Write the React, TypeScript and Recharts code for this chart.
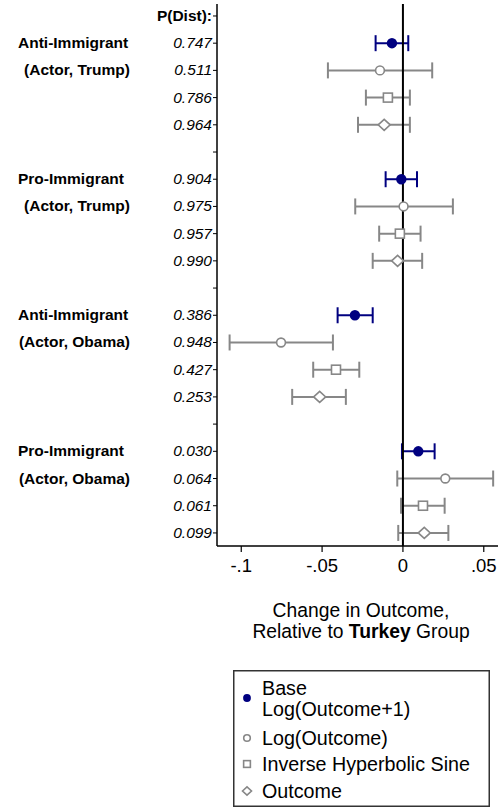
import React from 'react';
import { ScatterChart, Scatter, XAxis, YAxis, ErrorBar, ReferenceLine, Legend } from 'recharts';

const FONT = '"Liberation Sans", Arial, Helvetica, sans-serif';
const NAVY = '#000080';
const GRAY = '#878787';

const groups = ['Anti-Immigrant', 'Pro-Immigrant', 'Anti-Immigrant', 'Pro-Immigrant'];
const actors = ['(Actor, Trump)', '(Actor, Trump)', '(Actor, Obama)', '(Actor, Obama)'];
const models = ['Base', 'Log(Outcome)', 'Inverse Hyperbolic Sine', 'Outcome'];

// p-values per group, in model order
const pDist = [
  ['0.747', '0.511', '0.786', '0.964'],
  ['0.904', '0.975', '0.957', '0.990'],
  ['0.386', '0.948', '0.427', '0.253'],
  ['0.030', '0.064', '0.061', '0.099'],
];

// estimates and 95% bounds, one entry per group
const baseEst = [-0.0068, -0.001, -0.0297, 0.0095];
const baseLo = [-0.0169, -0.0107, -0.0404, -0.0006];
const baseHi = [0.0033, 0.0087, -0.0187, 0.0196];

const logEst = [-0.0142, 0.0004, -0.0754, 0.0262];
const logLo = [-0.0464, -0.0295, -0.1072, -0.0035];
const logHi = [0.0181, 0.0309, -0.0433, 0.0558];

const ihsEst = [-0.0093, -0.0019, -0.0414, 0.0124];
const ihsLo = [-0.0229, -0.0147, -0.0555, -0.0012];
const ihsHi = [0.0043, 0.0109, -0.027, 0.0258];

const outEst = [-0.0116, -0.0033, -0.0515, 0.0132];
const outLo = [-0.0278, -0.0187, -0.0685, -0.0029];
const outHi = [0.0043, 0.0119, -0.0353, 0.0281];

const xTicks = [-0.1, -0.05, 0, 0.05];
const xTickLabels = ['-.1', '-.05', '0', '.05'];

const rows = (est: number[], lo: number[], hi: number[], m: number) =>
  est.map((v, g) => ({ x: v, y: 1 + g * 5 + m, err: [v - lo[g], hi[g] - v] }));

const series = [
  { name: models[0], kind: 'dot', color: NAVY, data: rows(baseEst, baseLo, baseHi, 0) },
  { name: models[1], kind: 'circle', color: GRAY, data: rows(logEst, logLo, logHi, 1) },
  { name: models[2], kind: 'square', color: GRAY, data: rows(ihsEst, ihsLo, ihsHi, 2) },
  { name: models[3], kind: 'diamond', color: GRAY, data: rows(outEst, outLo, outHi, 3) },
];

const slots = Array.from({ length: 20 }, (_, i) => i);

function Marker({ kind, cx, cy, small }: any) {
  const k = small ? 0.75 : 1;
  if (kind === 'dot') return <circle cx={cx} cy={cy} r={5.2 * k} fill={NAVY} />;
  if (kind === 'circle')
    return <circle cx={cx} cy={cy} r={4.4 * k} fill="#fff" stroke={GRAY} strokeWidth={1.6} />;
  if (kind === 'square')
    return (
      <rect x={cx - 4.5 * k} y={cy - 4.5 * k} width={9 * k} height={9 * k} fill="#fff" stroke={GRAY} strokeWidth={1.6} />
    );
  const w = 6 * k;
  const h = 5.5 * k;
  return (
    <polygon
      points={`${cx - w},${cy} ${cx},${cy - h} ${cx + w},${cy} ${cx},${cy + h}`}
      fill="#fff"
      stroke={GRAY}
      strokeWidth={1.6}
    />
  );
}

function YTick({ y, payload }: any) {
  const s = payload.value;
  if (s === 0) {
    return (
      <text x={212} y={y + 5} textAnchor="end" fontFamily={FONT} fontSize={15.5} fontWeight="bold" fill="#000">
        P(Dist):
      </text>
    );
  }
  const r = s - 1;
  const g = Math.floor(r / 5);
  const m = r % 5;
  if (m === 4) return null;
  return (
    <g fontFamily={FONT} fontSize={15.5} fill="#000">
      <text x={212} y={y + 5} textAnchor="end" fontStyle="italic">
        {pDist[g][m]}
      </text>
      {m === 0 && (
        <text x={18} y={y + 5} fontWeight="bold">
          {groups[g]}
        </text>
      )}
      {m === 1 && (
        <text x={130} y={y + 5} textAnchor="end" fontWeight="bold">
          {actors[g]}
        </text>
      )}
    </g>
  );
}

function XTick({ x, payload }: any) {
  const i = xTicks.indexOf(payload.value);
  return (
    <text x={x} y={572} textAnchor="middle" fontFamily={FONT} fontSize={18.5} fill="#000">
      {xTickLabels[i]}
    </text>
  );
}

function AxisTitle() {
  return (
    <g fontFamily={FONT} fontSize={19.3} fill="#000">
      <text x={361} y={617} textAnchor="middle">
        Change in Outcome,
      </text>
      <text x={361} y={638} textAnchor="middle">
        Relative to <tspan fontWeight="bold">Turkey</tspan> Group
      </text>
    </g>
  );
}

function LegendBox() {
  const fs = 19.7;
  return (
    <svg width={257} height={137} style={{ display: 'block' }}>
      <rect x={0.75} y={0.75} width={255.5} height={135.5} fill="#fff" stroke="#333" strokeWidth={1.5} />
      <g fontFamily={FONT} fontSize={fs} fill="#000">
        <Marker kind="dot" cx={14} cy={28} small />
        <text x={29} y={25}>Base</text>
        <text x={29} y={46}>Log(Outcome+1)</text>
        <Marker kind="circle" cx={14} cy={68} small />
        <text x={29} y={75}>{models[1]}</text>
        <Marker kind="square" cx={14} cy={94} small />
        <text x={29} y={101}>{models[2]}</text>
        <Marker kind="diamond" cx={14} cy={121} small />
        <text x={29} y={128}>{models[3]}</text>
      </g>
    </svg>
  );
}

export default function App() {
  return (
    <div style={{ position: 'absolute', left: 0, top: 0, width: 498, height: 809, background: '#fff' }}>
      <ScatterChart width={498} height={809} margin={{ top: 4, right: 0, bottom: 0, left: 0 }}>
        <XAxis
          type="number"
          dataKey="x"
          domain={[-0.115, 0.0588]}
          allowDataOverflow
          ticks={xTicks}
          tick={<XTick />}
          tickSize={6}
          height={263}
          axisLine={{ stroke: '#000', strokeWidth: 1.5 }}
          tickLine={{ stroke: '#000', strokeWidth: 1.2 }}
          label={{ content: () => <AxisTitle /> }}
        />
        <YAxis
          type="number"
          dataKey="y"
          domain={[-0.44, 19.48]}
          reversed
          ticks={slots}
          interval={0}
          tick={<YTick />}
          tickSize={4}
          width={217}
          axisLine={{ stroke: '#000', strokeWidth: 1.5 }}
          tickLine={{ stroke: '#000', strokeWidth: 1 }}
        />
        {series.map((s) => (
          <Scatter
            key={s.name}
            name={s.name}
            data={s.data}
            isAnimationActive={false}
            shape={(p: any) => <Marker kind={s.kind} cx={p.cx} cy={p.cy} />}
          >
            <ErrorBar dataKey="err" direction="x" width={8} strokeWidth={2} stroke={s.color} />
          </Scatter>
        ))}
        <ReferenceLine x={0} stroke="#000" strokeWidth={2} />
        <Legend
          layout="vertical"
          align="center"
          verticalAlign="middle"
          content={() => <LegendBox />}
          wrapperStyle={{ position: 'absolute', left: 233, top: 670, width: 257, height: 137 }}
        />
      </ScatterChart>
    </div>
  );
}
